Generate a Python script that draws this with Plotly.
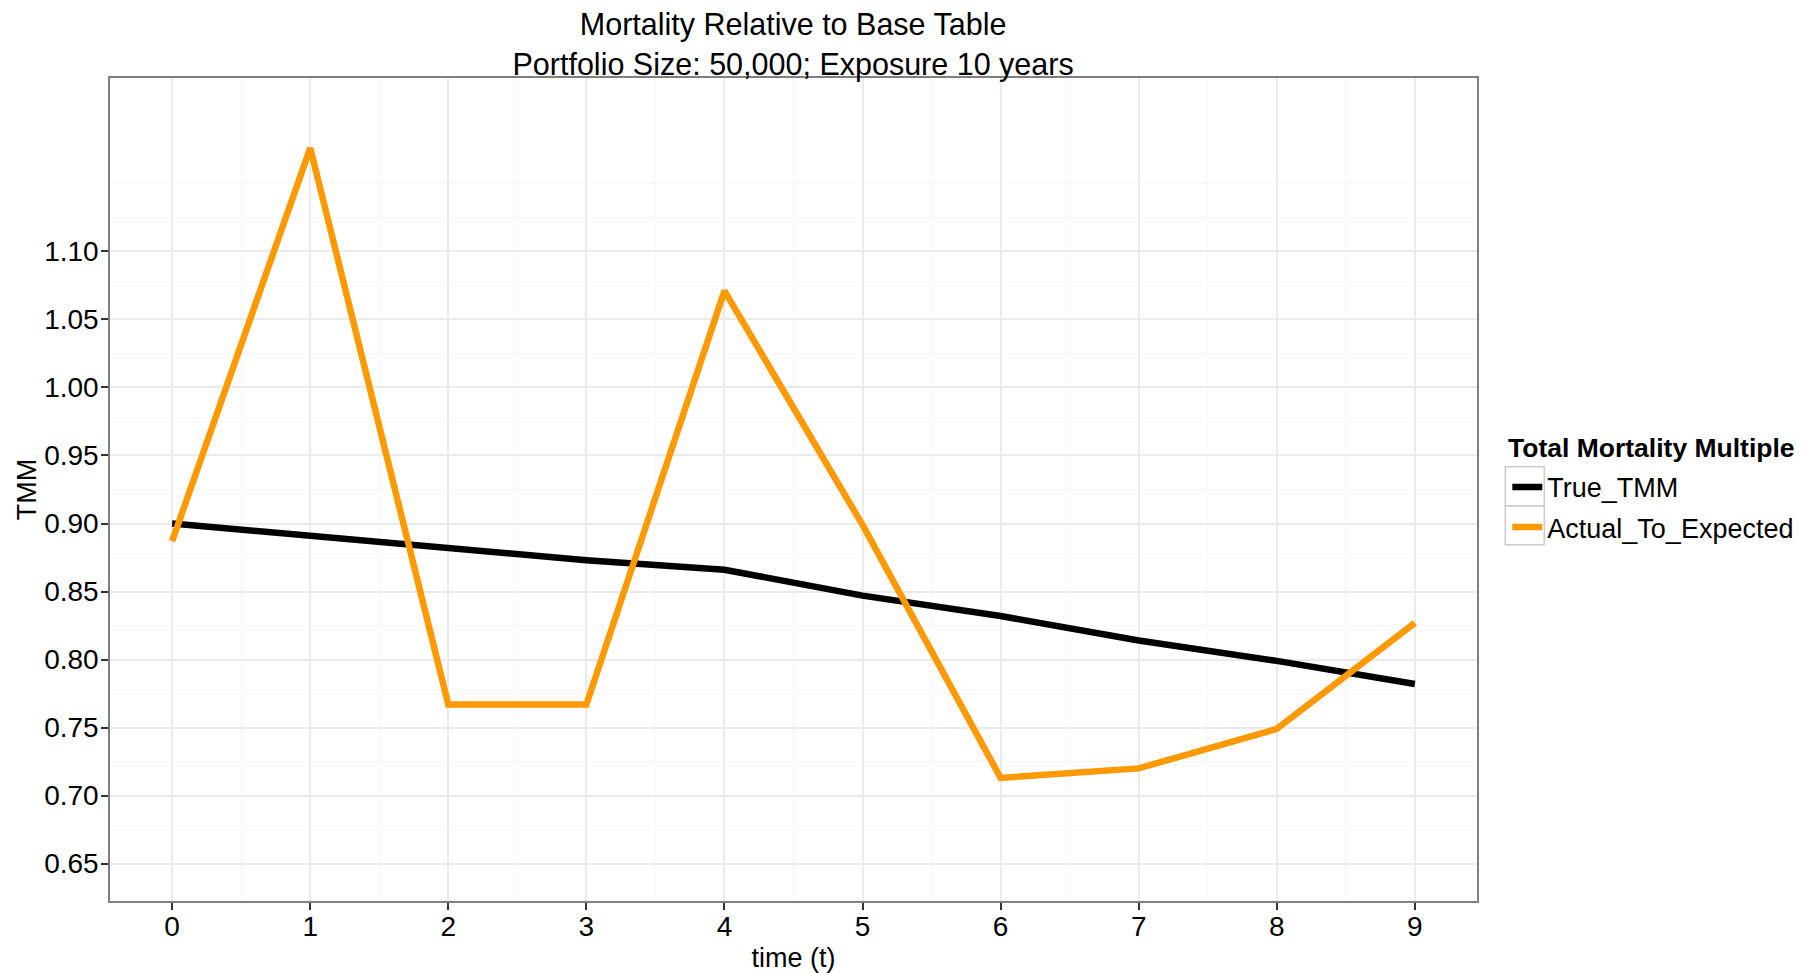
import plotly.graph_objects as go

# ---- data ----
time_t = [0, 1, 2, 3, 4, 5, 6, 7, 8, 9]
true_tmm = [0.900, 0.891, 0.883, 0.873, 0.866, 0.847, 0.832, 0.814, 0.799, 0.782]
actual_to_expected = [0.887, 1.176, 0.767, 0.767, 1.071, 0.899, 0.713, 0.720, 0.749, 0.827]

series_names = ["True_TMM", "Actual_To_Expected"]
series_colors = ["#000000", "#FF9900"]
legend_title = "Total Mortality Multiple"

y_ticks = [0.65, 0.70, 0.75, 0.80, 0.85, 0.90, 0.95, 1.00, 1.05, 1.10]
y_minor = [0.675, 0.725, 0.775, 0.825, 0.875, 0.925, 0.975, 1.025, 1.075, 1.125, 1.15]
x_minor = [0.5, 1.5, 2.5, 3.5, 4.5, 5.5, 6.5, 7.5, 8.5]

FONT = "Liberation Sans, Arial, sans-serif"
W, H = 1801, 973
L, T = 109.5, 78
PX_RIGHT, PX_BOTTOM = 1476.7, 901.3
R, B = W - PX_RIGHT, H - PX_BOTTOM
PW, PH = PX_RIGHT - L, PX_BOTTOM - T


def px_to_paper(xp, yp):
    return (xp - L) / PW, (PX_BOTTOM - yp) / PH


fig = go.Figure()
for name, vals, col in zip(series_names, [true_tmm, actual_to_expected], series_colors):
    fig.add_trace(go.Scatter(
        x=time_t, y=vals, mode="lines", name=name, legendgroup=name,
        line=dict(color=col, width=6.5),
    ))

# grey legend key boxes (ggplot style)
for i in range(len(series_names)):
    x0, y0 = px_to_paper(1505, 467 + 39 * i)
    x1, y1 = px_to_paper(1544, 506 + 39 * i)
    fig.add_shape(type="rect", xref="paper", yref="paper", x0=x0, x1=x1, y0=y0, y1=y1,
                  line=dict(color="#CCCCCC", width=1.5), fillcolor="rgba(0,0,0,0)", layer="below")

lt_x, lt_y = px_to_paper(1506, 448)
fig.add_annotation(
    text=f"<b>{legend_title}</b>", xref="paper", yref="paper", x=lt_x, y=lt_y,
    xanchor="left", yanchor="middle", showarrow=False,
    font=dict(family=FONT, size=26.5, color="#000000"),
)

leg_x, leg_y = px_to_paper(1507, 463)
fig.update_layout(
    width=W, height=H,
    paper_bgcolor="white", plot_bgcolor="white",
    margin=dict(l=L, r=R, t=T, b=B, autoexpand=False),
    font=dict(family=FONT, size=27, color="#000000"),
    title=dict(
        text="Mortality Relative to Base Table<br>Portfolio Size: 50,000; Exposure 10 years",
        x=(L + PX_RIGHT) / 2 / W, xanchor="center",
        y=1 - 35 / H, yanchor="middle", yref="container",
        font=dict(family=FONT, size=30.5, color="#000000"),
    ),
    showlegend=True,
    legend=dict(
        x=leg_x, xanchor="left", y=leg_y, yanchor="top",
        font=dict(size=27), bgcolor="rgba(0,0,0,0)",
        tracegroupgap=2, itemwidth=30,
    ),
)

fig.update_xaxes(
    range=[-0.45, 9.45], automargin=False,
    tickmode="array", tickvals=time_t, ticktext=[str(t) for t in time_t],
    ticks="outside", ticklen=7, tickwidth=1.5, tickcolor="#333333",
    tickfont=dict(size=28, color="#000000"), ticklabelstandoff=-7,
    showgrid=True, gridcolor="#EBEBEB", gridwidth=1.5,
    minor=dict(tickvals=x_minor, showgrid=True, gridcolor="#F7F7F7", gridwidth=1.2, ticks=""),
    showline=True, mirror=True, linecolor="#7F7F7F", linewidth=1.5,
    zeroline=False,
    title=dict(text="time (t)", font=dict(size=27), standoff=10),
)
fig.update_yaxes(
    range=[0.6225, 1.2275], automargin=False,
    tickmode="array", tickvals=y_ticks, ticktext=[f"{v:.2f}" for v in y_ticks],
    ticks="outside", ticklen=7, tickwidth=1.5, tickcolor="#333333",
    tickfont=dict(size=28, color="#000000"), ticklabelstandoff=-3,
    showgrid=True, gridcolor="#EBEBEB", gridwidth=1.5,
    minor=dict(tickvals=y_minor, showgrid=True, gridcolor="#F7F7F7", gridwidth=1.2, ticks=""),
    showline=True, mirror=True, linecolor="#7F7F7F", linewidth=1.5,
    zeroline=False,
    title=dict(text="TMM", font=dict(size=27), standoff=0),
)

# the page body has a default 8px margin; remove it so the figure fills the window exactly
fig.write_html("out.html", config={"displayModeBar": False},
               post_script="document.body.style.margin='0px';")
